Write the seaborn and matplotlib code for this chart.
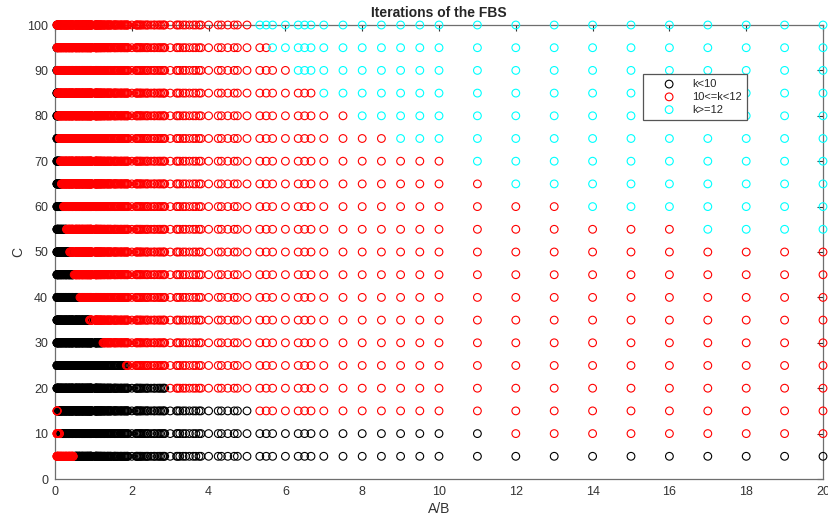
import numpy as np
import pandas as pd
import matplotlib
matplotlib.use("Agg")
import matplotlib.pyplot as plt
import seaborn as sns

# Grid of parameters: x axis is the ratio A/B, y axis is C
A_values = [1, 2, 3, 4, 5, 6, 7, 8, 9, 10, 11, 12, 13, 14, 15, 16, 17, 18, 19, 20]
B_values = [1, 2, 3, 4, 5, 6, 7, 8, 9, 10, 11, 12, 13, 14, 15, 16, 17, 18, 19, 20]
C_values = [5, 10, 15, 20, 25, 30, 35, 40, 45, 50,
            55, 60, 65, 70, 75, 80, 85, 90, 95, 100]

# Iteration-count regions along A/B for each C row:
#   x < red_below                -> 10<=k<12
#   red_below <= x < black_below -> k<10
#   black_below <= x < cyan_from -> 10<=k<12
#   x >= cyan_from               -> k>=12
red_below = [0.5, 0.12, 0.06, 0, 0, 0, 0, 0, 0, 0,
             0, 0, 0, 0, 0, 0, 0, 0, 0, 0]
black_below = [99, 11.5, 5.2, 2.9, 1.85, 1.25, 0.9, 0.65, 0.5, 0.38,
               0.3, 0.22, 0.16, 0.14, 0.11, 0.08, 0.07, 0.06, 0.055, 0.052]
cyan_from = [99, 99, 99, 99, 99, 99, 99, 99, 99, 99,
             16.5, 13.5, 11.5, 10.5, 8.8, 7.8, 6.8, 6.2, 5.6, 5.2]

class_labels = ["k<10", "10<=k<12", "k>=12"]
class_colors = ["#000000", "#ff0000", "#00ffff"]

ratios = np.unique(np.round([a / b for a in A_values for b in B_values], 10))

rows = []
for c, lo, t1, t2 in zip(C_values, red_below, black_below, cyan_from):
    for r in ratios:
        if r >= t2:
            k = 2
        elif r >= t1 or r < lo:
            k = 1
        else:
            k = 0
        rows.append((r, c, k))
df = pd.DataFrame(rows, columns=["AB", "C", "cls"])

sns.set_style("white")
plt.rcParams["font.family"] = ["Liberation Sans", "DejaVu Sans"]

fig = plt.figure(figsize=(8.29, 5.18), dpi=100)
ax = fig.add_axes([55 / 829, 1 - 479 / 518, 768 / 829, 454 / 518])

for k, (lab, col) in enumerate(zip(class_labels, class_colors)):
    sub = df[df["cls"] == k]
    sns.scatterplot(data=sub, x="AB", y="C", ax=ax, marker="o", s=31,
                    facecolor="none", edgecolor=col, linewidth=0.8,
                    label=lab, clip_on=False, zorder=3)

ax.set_xlim(0, 20)
ax.set_ylim(0, 100)
ax.set_xticks(range(0, 21, 2))
ax.set_yticks(range(0, 101, 10))
ax.tick_params(direction="in", length=4, width=0.8, colors="#333333",
               labelsize=9, top=True, right=True, pad=5)
for sp in ax.spines.values():
    sp.set_visible(True)
    sp.set_color("#6e6e6e")
    sp.set_linewidth(0.9)

ax.set_xlabel("A/B", fontsize=10, color="#333333", labelpad=3)
ax.set_ylabel("C", fontsize=10, color="#333333", labelpad=1.5)
ax.set_title("Iterations of the FBS", fontsize=10, fontweight="bold", pad=5.5)

leg = ax.legend(loc="upper left", bbox_to_anchor=(643 / 829, 1 - 74 / 518),
                bbox_transform=fig.transFigure, fontsize=8, frameon=True,
                fancybox=False, framealpha=1, edgecolor="#555555",
                handlelength=3.8, handletextpad=0.2, labelspacing=0.25,
                borderpad=0.45, borderaxespad=0)
leg.get_frame().set_linewidth(0.9)
leg.set_zorder(10)

fig.savefig("out.png", dpi=100)
